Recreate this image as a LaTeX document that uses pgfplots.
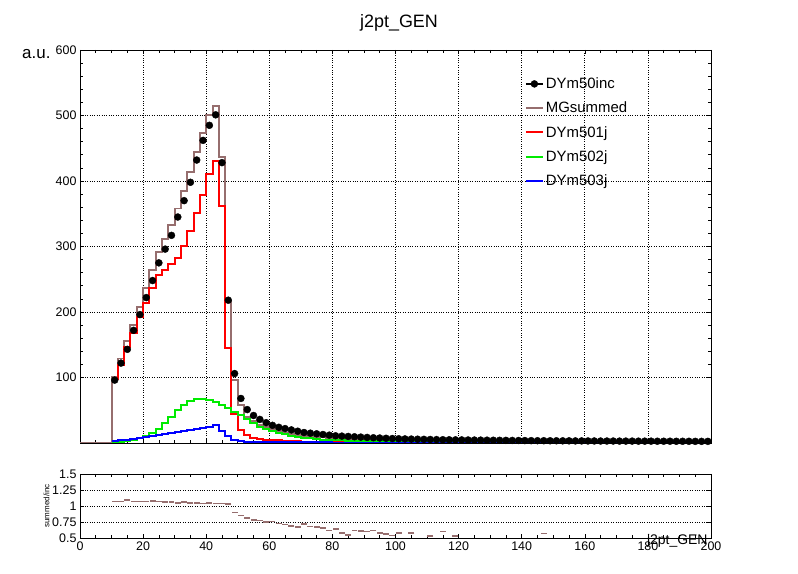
\documentclass[border=0pt]{standalone}
\usepackage{pgfplots}
\pgfplotsset{compat=1.18}
\usepackage{fontspec}
\setmainfont{Liberation Sans}
\definecolor{mg}{RGB}{150,110,110}
\definecolor{gr}{RGB}{0,235,0}
\begin{document}
\begin{tikzpicture}[x=1bp,y=1bp]
\path (0,0) rectangle (798,574);
\node at (399,551) {\fontsize{18}{21}\selectfont j2pt\_GEN};
\pgfplotsset{every axis/.append style={scale only axis, axis line style={line width=0.8pt},
  tick style={black,line width=0.6pt}, tick align=inside, xmin=0, xmax=200,
  grid style={dotted,black,line width=0.8pt}, xtick={0,20,...,200}, minor x tick num=3,
  ticklabel style={font=\fontsize{12.5}{14}\selectfont}, /pgf/number format/assume math mode=true}}
\begin{axis}[at={(80bp,131bp)}, width=631bp, height=393bp, ymin=0, ymax=600,
  ytick={100,200,...,600}, minor y tick num=4, grid=major, xticklabels={},
  ylabel={a.u.}, ylabel style={at={(rel axis cs:0,1)},anchor=north east,rotate=-90,font=\fontsize{17}{19}\selectfont, xshift=-26bp, yshift=4bp},
  legend style={draw=none, fill=none, at={(0.7,0.94)}, anchor=north west, font=\fontsize{15}{17}\selectfont, row sep=8pt},
  legend cell align=left]
\addplot[black, only marks, mark=*, mark size=3.5, legend image code/.code={\draw[black,line width=2pt] (0,0)--(0.6cm,0); \fill[black] (0.3cm,0) circle (3.5pt);}] coordinates {
(11,96)(13,122)(15,143)(17,172)(19,196)(21,222)(23,248)(25,275)(27,296)(29,317)(31,345)(33,370)(35,398)(37,432)(39,462)(41,485)(43,501)(45,428)(47,218)(49,106)
(51,68)(53,51)(55,42)(57,36)(59,31)(61,27)(63,24)(65,22)(67,20)(69,18)(71,16)(73,15)(75,14)(77,13)(79,12)(81,11)(83,10.5)(85,10)(87,9.5)(89,9)
(91,8.5)(93,8)(95,7.6)(97,7.2)(99,6.8)(101,6.5)(103,6.2)(105,6)(107,5.8)(109,5.6)(111,5.4)(113,5.2)(115,5)(117,4.9)(119,4.8)(121,4.7)(123,4.6)(125,4.5)(127,4.4)(129,4.3)
(131,4.2)(133,4.1)(135,4)(137,3.9)(139,3.8)(141,3.7)(143,3.6)(145,3.5)(147,3.5)(149,3.4)(151,3.4)(153,3.3)(155,3.3)(157,3.2)(159,3.2)(161,3.1)(163,3.1)(165,3)(167,3)(169,3)
(171,2.9)(173,2.9)(175,2.9)(177,2.8)(179,2.8)(181,2.8)(183,2.7)(185,2.7)(187,2.7)(189,2.6)(191,2.6)(193,2.6)(195,2.5)(197,2.5)(199,2.5)};
\addlegendentry{DYm50inc}
\addplot[mg, line width=2pt, const plot mark left] coordinates {
(0,0)(10,100)(12,129)(14,155)(16,180)(18,208)(20,236)(22,264)(24,291)(26,312)(28,333)(30,358)(32,384)(34,414)(36,445)(38,473)(40,501)(42,515)(44,437)(46,216)(48,96)
(50,58)(52,40)(54,33)(56,28)(58,24)(60,21)(62,18)(64,16)(66,14)(68,12.5)(70,11)(72,10)(74,9)(76,8.5)(78,7.5)(80,7)(84,6)(88,5)(92,4.3)(96,3.8)(100,3.4)(110,2.8)(120,2.3)(140,2)(160,1.8)(180,1.6)(200,1.6)};
\addlegendentry{MGsummed}
\addplot[red, line width=2pt, const plot mark left] coordinates {
(10,97)(12,119)(14,147)(16,168)(18,193)(20,214)(22,236)(24,256)(26,264)(28,274)(30,283)(32,300)(34,323)(36,351)(38,379)(40,411)(42,430)(44,362)(46,145)(48,45)
(50,20)(52,12)(54,8)(56,6)(58,5)(60,4)(64,3)(70,2)(80,1.5)(100,1)(150,0.5)(200,0.5)};
\addlegendentry{DYm501j}
\addplot[gr, line width=2pt, const plot mark left] coordinates {
(10,1)(12,2)(14,3)(16,5)(18,8)(20,11)(22,15)(24,22)(26,30)(28,40)(30,50)(32,58)(34,64)(36,67)(38,67)(40,65)(42,62)(44,58)(46,53)(48,47)
(50,42)(52,36)(54,30)(56,25)(58,21)(60,18)(62,15)(64,13)(66,11)(68,9.5)(70,8)(72,7)(74,6)(76,5)(80,4)(84,3.2)(90,2.5)(100,1.8)(110,1.2)(120,0.8)(150,0.5)(200,0.5)};
\addlegendentry{DYm502j}
\addplot[blue, line width=2pt, const plot mark left] coordinates {
(10,3)(12,4)(14,5)(16,6.5)(18,8)(20,9.5)(22,11)(24,12.5)(26,14)(28,15.5)(30,17)(32,18.5)(34,20)(36,21.5)(38,23)(40,25)(42,27)(44,19)(46,10)(48,5)
(50,3)(52,2)(56,1.5)(60,1)(80,0.7)(100,0.5)(200,0.5)};
\addlegendentry{DYm503j}
\end{axis}
\begin{axis}[at={(80bp,36bp)}, width=631bp, height=64bp, ymin=0.5, ymax=1.5,
  ytick={0.5,0.75,1,1.25,1.5}, yticklabels={0.5,0.75,1,1.25,1.5}, ymajorgrids,
  xlabel={j2pt\_GEN}, xlabel style={at={(rel axis cs:1,0)},anchor=north east,font=\fontsize{14}{16}\selectfont,yshift=7bp},
  ylabel={summed/inc}, ylabel style={font=\fontsize{8}{9}\selectfont, yshift=-4bp}]
\addplot[mg, only marks, mark=-, mark size=3, line width=1.5pt] coordinates {
(11,1.07)(13,1.07)(15,1.09)(17,1.07)(19,1.07)(21,1.07)(23,1.08)(25,1.07)(27,1.06)(29,1.06)(31,1.05)(33,1.06)(35,1.05)(37,1.05)(39,1.04)(41,1.05)(43,1.04)(45,1.04)(47,1.03)
(49,0.90)(51,0.85)(53,0.81)(55,0.78)(57,0.77)(59,0.75)(61,0.76)(63,0.73)(65,0.71)(67,0.69)(69,0.67)(71,0.72)(73,0.68)(75,0.67)(77,0.66)(79,0.62)(81,0.64)(83,0.58)(85,0.55)
(87,0.62)(89,0.61)(91,0.6)(93,0.62)(95,0.58)(97,0.56)(99,0.54)(101,0.58)(105,0.58)(111,0.53)(115,0.6)(119,0.53)(147,0.57)};
\end{axis}
\end{tikzpicture}
\end{document}
